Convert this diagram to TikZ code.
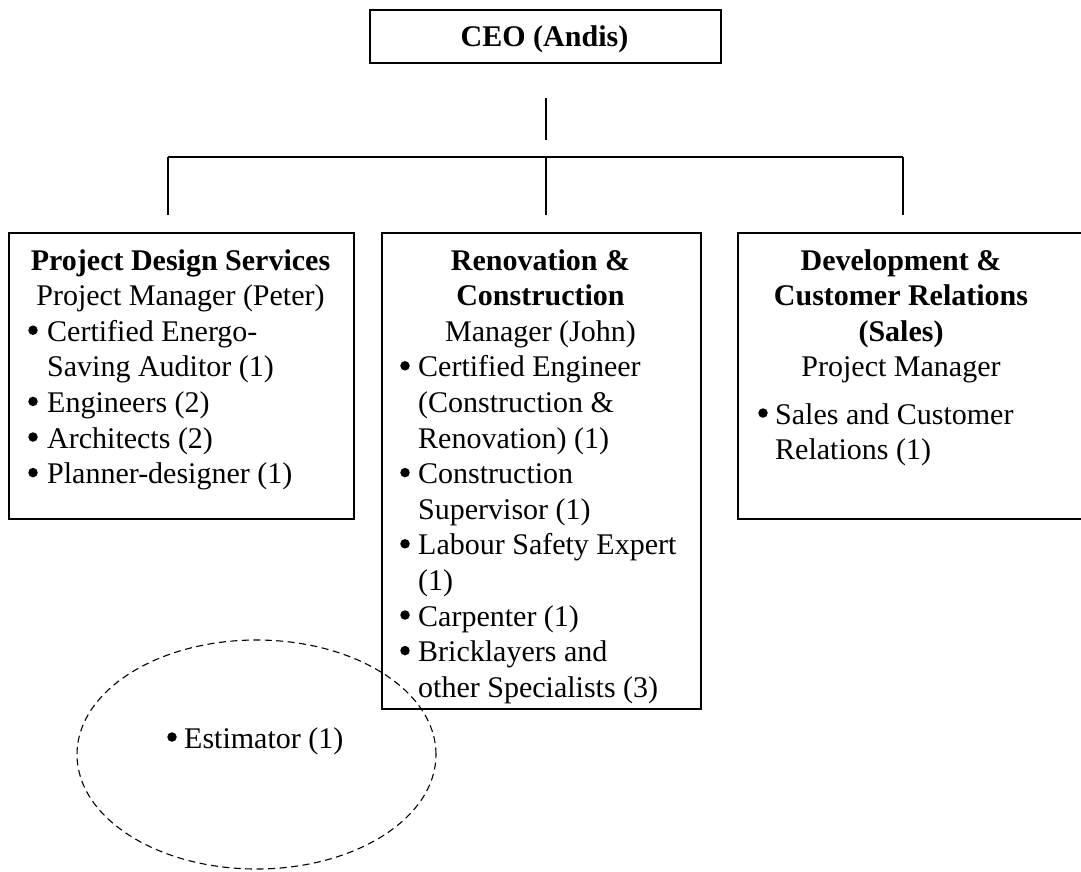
\documentclass[tikz,border=0pt]{standalone}
\usepackage{fontspec}
\setmainfont{Liberation Serif}
\usetikzlibrary{shapes.geometric}
\begin{document}
\begin{tikzpicture}[x=1pt,y=-1pt,
  box/.style={draw, line width=1.6pt, rectangle, inner sep=0pt, anchor=north west},
  vline/.style={line width=1.2pt},
  hline/.style={line width=1.8pt},
  txt/.style={inner sep=0pt, font=\fontsize{30}{36}\selectfont},
  ctr/.style={txt, anchor=base},
  hd/.style={ctr, font=\fontsize{30}{36}\selectfont\bfseries},
  itm/.style={txt, anchor=base west},
  dot/.style={circle, fill=black, inner sep=0pt, minimum size=9.5pt},
  group/.style={draw, ellipse, line width=1.1pt, dash pattern=on 7pt off 4.5pt, inner sep=0pt}
]
\useasboundingbox (0,0) rectangle (1081,871);
\clip (0,0) rectangle (1081,871);

% top box
\node[box, minimum width=351pt, minimum height=53pt] (ceo) at (369,9) {};
\node[hd] (ceotxt) at (544.5,46.5) {CEO (Andis)};

% department boxes
\node[box, minimum width=345pt, minimum height=286pt] (pds) at (8,232) {};
\node[box, minimum width=319pt, minimum height=476pt] (rc) at (381,232) {};
\node[box, minimum width=360pt, minimum height=286pt] (dcr) at (737,232) {};

% connectors
\coordinate (hub) at (546,157);
\coordinate (hl) at (168,157);
\coordinate (hr) at (903,157);
\draw[vline, shorten <=34pt, shorten >=17pt] (ceo.south -| hub) -- (hub);
\draw[hline] (hl) -- (hr);
\draw[vline, shorten >=17pt] (hl) -- (hl |- pds.north);
\draw[vline, shorten >=17pt] (hub) -- (hub |- rc.north);
\draw[vline, shorten >=17pt] (hr) -- (hr |- dcr.north);

% Project Design Services
\node[hd] (pds1) at (180.5,270) {Project Design Services};
\node[ctr] (pds2) at (180.5,305.6) {Project Manager (Peter)};
\foreach \yy/\tt [count=\i] in {341.2/Certified Energo-, 376.8/Saving Auditor (1),
    412.4/Engineers (2), 448/Architects (2), 483.6/Planner-designer (1)}
  \node[itm] (pdsi\i) at (47,\yy) {\tt};
\foreach \yy [count=\i] in {341.2, 412.4, 448, 483.6}
  \node[dot] (pdsb\i) at (33,\yy-11) {};

% Renovation & Construction
\node[hd] (rc1) at (540.5,270) {Renovation \&};
\node[hd] (rc2) at (540.5,305.6) {Construction};
\node[ctr] (rc3) at (540.5,341.2) {Manager (John)};
\foreach \yy/\tt [count=\i] in {376.8/Certified Engineer, 412.4/(Construction \&,
    448/Renovation) (1), 483.6/Construction, 519.2/Supervisor (1),
    554.8/Labour Safety Expert, 590.4/(1), 626/Carpenter (1),
    661.6/Bricklayers and, 697.2/other Specialists (3)}
  \node[itm] (rci\i) at (418,\yy) {\tt};
\foreach \yy [count=\i] in {376.8, 483.6, 554.8, 626, 661.6}
  \node[dot] (rcb\i) at (405,\yy-11) {};

% Development & Customer Relations
\node[hd] (dcr1) at (901,270) {Development \&};
\node[hd] (dcr2) at (901,305.6) {Customer Relations};
\node[hd] (dcr3) at (901,341.2) {(Sales)};
\node[ctr] (dcr4) at (901,376.8) {Project Manager};
\node[itm] (dcri1) at (775,424) {Sales and Customer};
\node[itm] (dcri2) at (775,459.6) {Relations (1)};
\node[dot] (dcrb1) at (763,413) {};

% estimator group
\node[group, minimum width=359pt, minimum height=229pt] (est) at (256.5,754.5) {};
\node[itm] (esttxt) at (184,748) {Estimator (1)};
\node[dot] (estb) at (172,737) {};
\end{tikzpicture}
\end{document}
